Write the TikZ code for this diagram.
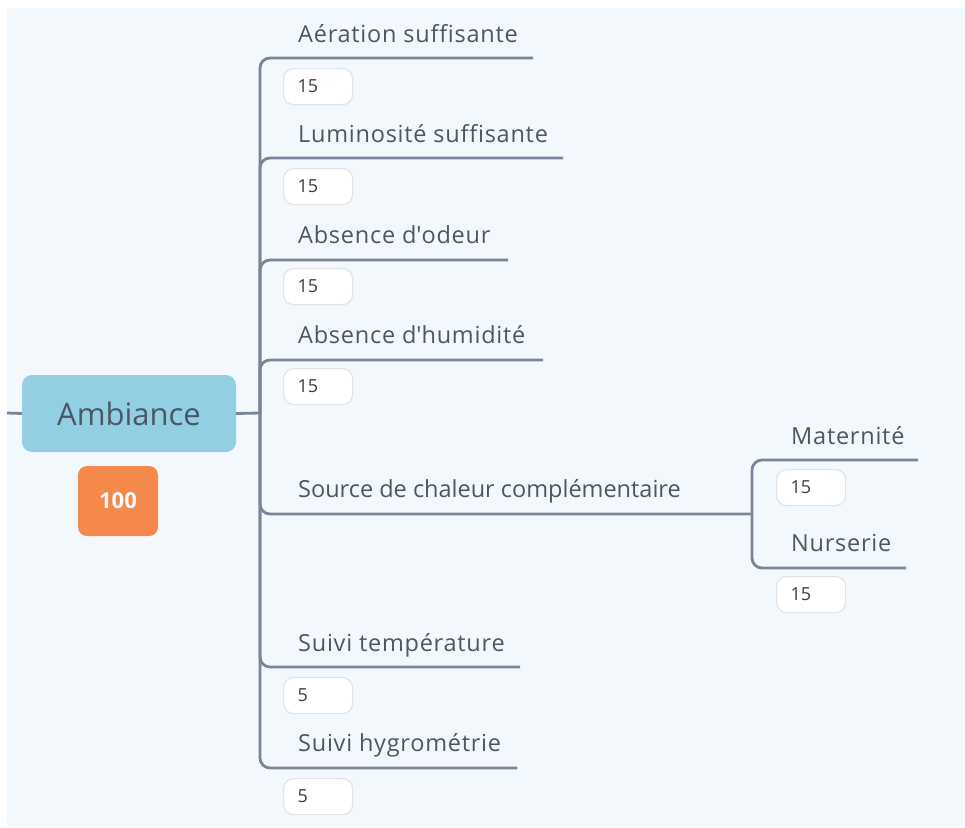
\documentclass[tikz,border=0pt]{standalone}
\usepackage{fontspec}
\setmainfont{Open Sans}[Ligatures={NoCommon}]
\newfontfamily\widefont{Open Sans}[Ligatures={NoCommon},LetterSpace=3.2]
\definecolor{bgc}{HTML}{F3F8FC}
\definecolor{linec}{HTML}{7B8599}
\definecolor{txtc}{HTML}{4F5862}
\definecolor{rootc}{HTML}{92CFE3}
\definecolor{roott}{HTML}{4A5866}
\definecolor{orangec}{HTML}{F5894B}
\definecolor{boxc}{HTML}{E0E3E8}
\definecolor{numc}{HTML}{3A3F45}
\begin{document}
\begin{tikzpicture}[x=1pt,y=-1pt,
  conn/.style={draw=linec, line width=2.8pt, rounded corners=10pt},
  lbl/.style={anchor=base west, font=\widefont\fontsize{23.5}{28}\selectfont, text=txtc, inner sep=0pt},
  lblplain/.style={lbl, font=\normalfont\fontsize{23.5}{28}\selectfont},
  numbox/.style={draw=boxc, fill=white, rounded corners=10pt, line width=1.2pt,
     anchor=north west, text width=41pt, align=left, inner xsep=14pt,
     minimum height=36pt, inner ysep=0pt, font=\fontsize{18}{20}\selectfont, text=numc},
  rootbox/.style={fill=rootc, rounded corners=10pt, minimum width=214pt, minimum height=77pt,
     font=\fontsize{31}{36}\selectfont, text=roott},
  scorebox/.style={fill=orangec, rounded corners=9pt, minimum width=80pt, minimum height=70pt,
     font=\fontsize{22}{26}\selectfont\bfseries, text=white}
]
\useasboundingbox (0,0) rectangle (965,827);
\fill[bgc] (7,8) rectangle (965,827);

% root
\node[rootbox] (root) at (129,413.5) {Ambiance};
\node[scorebox] (score) at (118,501) {100};

% coordinates
\coordinate (lstub) at (7,413);
\coordinate (t) at (260,413);
\coordinate (e1) at (533,58);
\coordinate (e2) at (563,158);
\coordinate (e3) at (508,260);
\coordinate (e4) at (543,360);
\coordinate (e5) at (752,514);
\coordinate (e6) at (520,667);
\coordinate (e7) at (517,768);
\coordinate (em1) at (918,460);
\coordinate (em2) at (906,568);

% connectors
\draw[conn] (lstub) -- (root.west);
\draw[conn] (root.east) -- (t);
\draw[conn] (t) |- (e1);
\draw[conn] (t) |- (e2);
\draw[conn] (t) |- (e3);
\draw[conn] (t) |- (e4);
\draw[conn] (t) |- (e5);
\draw[conn] (t) |- (e6);
\draw[conn] (t) |- (e7);
\draw[conn] (e5) |- (em1);
\draw[conn] (e5) |- (em2);

% labels
\node[lbl] (c1) at (298,42) {Aération suffisante};
\node[lbl] (c2) at (298,142) {Luminosité suffisante};
\node[lbl] (c3) at (298,243) {Absence d\textquotesingle odeur};
\node[lbl] (c4) at (298,343) {Absence d\textquotesingle humidité};
\node[lblplain] (c5) at (298,497) {Source de chaleur complémentaire};
\node[lbl] (c6) at (298,651) {Suivi température};
\node[lbl] (c7) at (298,751) {Suivi hygrométrie};
\node[lbl] (m1) at (791,444) {Maternité};
\node[lbl] (m2) at (791,551) {Nurserie};

% number boxes
\node[numbox] (n1) at (283,68) {15};
\node[numbox] (n2) at (283,168) {15};
\node[numbox] (n3) at (283,268) {15};
\node[numbox] (n4) at (283,368) {15};
\node[numbox] (n6) at (283,677) {5};
\node[numbox] (n7) at (283,778) {5};
\node[numbox] (mn1) at (776,469) {15};
\node[numbox] (mn2) at (776,576) {15};
\end{tikzpicture}
\end{document}
